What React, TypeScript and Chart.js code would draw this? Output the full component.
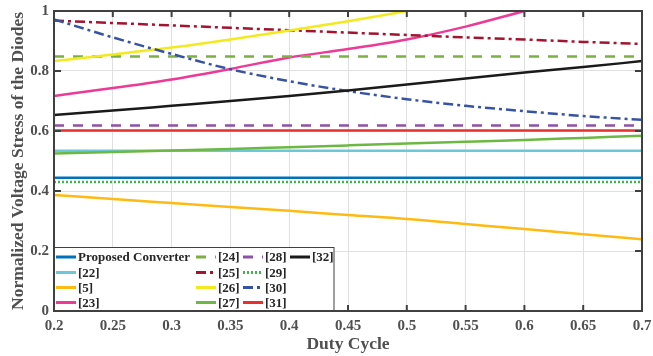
import React, { useEffect, useRef } from "react";
import { Chart, registerables } from "chart.js";

Chart.register(...registerables);

// ---- Data ----
const duty = [0.2, 0.25, 0.3, 0.35, 0.4, 0.45, 0.5, 0.55, 0.6, 0.65, 0.7];
const xTickLabels = ["0.2", "0.25", "0.3", "0.35", "0.4", "0.45", "0.5", "0.55", "0.6", "0.65", "0.7"];
const yTickLabels = ["0", "0.2", "0.4", "0.6", "0.8", "1"];

const proposed = [0.444, 0.444, 0.444, 0.444, 0.444, 0.444, 0.444, 0.444, 0.444, 0.444, 0.444];
const ref22 = [0.534, 0.534, 0.534, 0.534, 0.534, 0.534, 0.534, 0.534, 0.534, 0.534, 0.534];
const ref5 = [0.387, 0.373, 0.36, 0.347, 0.334, 0.32, 0.307, 0.29, 0.273, 0.256, 0.239];
const ref23 = [0.717, 0.743, 0.772, 0.807, 0.845, 0.873, 0.905, 0.948, 1.0];
const ref24 = [0.848, 0.848, 0.848, 0.848, 0.848, 0.848, 0.848, 0.848, 0.848, 0.848, 0.848];
const ref25 = [0.968, 0.96, 0.952, 0.944, 0.936, 0.928, 0.92, 0.912, 0.905, 0.897, 0.89];
const ref26 = [0.833, 0.855, 0.878, 0.905, 0.935, 0.966, 1.0];
const ref27 = [0.525, 0.53, 0.535, 0.54, 0.546, 0.552, 0.558, 0.564, 0.57, 0.577, 0.584];
const ref28 = [0.618, 0.618, 0.618, 0.618, 0.618, 0.618, 0.618, 0.618, 0.618, 0.618, 0.618];
const ref29 = [0.43, 0.43, 0.43, 0.43, 0.43, 0.43, 0.43, 0.43, 0.43, 0.43, 0.43];
const ref30 = [0.972, 0.912, 0.857, 0.806, 0.766, 0.733, 0.706, 0.684, 0.666, 0.65, 0.637];
const ref31 = [0.602, 0.602, 0.602, 0.602, 0.602, 0.602, 0.602, 0.602, 0.602, 0.602, 0.602];
const ref32 = [0.653, 0.668, 0.684, 0.7, 0.717, 0.735, 0.755, 0.775, 0.795, 0.813, 0.833];

const seriesLabels = [
  "Proposed Converter", "[22]", "[5]", "[23]", "[24]", "[25]", "[26]",
  "[27]", "[28]", "[29]", "[30]", "[31]", "[32]",
];
const seriesValues = [proposed, ref22, ref5, ref23, ref24, ref25, ref26, ref27, ref28, ref29, ref30, ref31, ref32];

// ---- Styles ----
const seriesColors = [
  "#0072BD", "#6CC8D8", "#FDBA12", "#EC3A96", "#7BB143", "#A2142F", "#F2EA1E",
  "#6DB843", "#8E50A8", "#3FB54A", "#3953A4", "#E8312F", "#1A1A1A",
];
const seriesDash: number[][] = [
  [], [], [], [], [10, 9], [10, 4, 3, 4], [], [], [10, 9], [2, 2], [10, 4, 3, 4], [], [],
];

const FONT = "'Liberation Serif', 'Times New Roman', serif";
const TEXT = "#505050";
const FRAME = "#404040";

const framePlugin = {
  id: "frameAndLegend",
  afterDatasetsDraw(chart: any) {
    const { ctx, chartArea } = chart;
    const { left, right, top, bottom } = chartArea;
    const xs = chart.scales.x;
    const ys = chart.scales.y;
    ctx.save();
    ctx.strokeStyle = FRAME;
    ctx.lineWidth = 2;
    ctx.setLineDash([]);
    ctx.beginPath();
    for (const t of xs.ticks) {
      const px = xs.getPixelForValue(t.value);
      ctx.moveTo(px, bottom);
      ctx.lineTo(px, bottom - 6);
      ctx.moveTo(px, top);
      ctx.lineTo(px, top + 6);
    }
    for (const t of ys.ticks) {
      const py = ys.getPixelForValue(t.value);
      ctx.moveTo(left, py);
      ctx.lineTo(left + 7, py);
      ctx.moveTo(right, py);
      ctx.lineTo(right - 7, py);
    }
    ctx.stroke();
    ctx.strokeRect(left, top, right - left, bottom - top);

    // Legend box (bottom-left inside the plot)
    const bx = left - 0.5;
    const bw = 281;
    const bh = 64;
    const by = bottom - bh;
    ctx.fillStyle = "#ffffff";
    ctx.fillRect(bx, by, bw, bh);
    ctx.lineWidth = 1;
    ctx.strokeStyle = FRAME;
    ctx.strokeRect(bx + 0.5, by + 0.5, bw - 1, bh - 1);

    const colX = [left + 2, left + 142, left + 189, left + 236];
    const rowY = [by + 10, by + 25.5, by + 40.5, by + 55.5];
    ctx.font = `bold 13px ${FONT}`;
    ctx.textBaseline = "middle";
    ctx.textAlign = "left";
    seriesLabels.forEach((label, i) => {
      const c = Math.floor(i / 4);
      const r = i % 4;
      const x0 = colX[c];
      const y0 = rowY[r];
      ctx.strokeStyle = seriesColors[i];
      ctx.lineWidth = 3;
      ctx.setLineDash(seriesDash[i]);
      ctx.beginPath();
      ctx.moveTo(x0, y0);
      ctx.lineTo(x0 + 20, y0);
      ctx.stroke();
      ctx.setLineDash([]);
      ctx.fillStyle = "#262626";
      ctx.fillText(label, x0 + 22, y0 + 1);
    });

    // redraw frame bottom/left over legend box edges
    ctx.strokeStyle = FRAME;
    ctx.lineWidth = 2;
    ctx.beginPath();
    ctx.moveTo(left, top);
    ctx.lineTo(left, bottom);
    ctx.lineTo(right, bottom);
    ctx.stroke();
    ctx.restore();
  },
};

function zeroPadding(s: any) {
  s.paddingTop = 0;
  s.paddingBottom = 0;
  s.paddingLeft = 0;
  s.paddingRight = 0;
}

export default function App() {
  const ref = useRef<HTMLCanvasElement | null>(null);

  useEffect(() => {
    if (!ref.current) return;
    Chart.defaults.font.family = FONT;
    const datasets = seriesLabels.map((label, i) => ({
      label,
      data: seriesValues[i].map((v, k) => ({ x: duty[k], y: v })),
      borderColor: seriesColors[i],
      backgroundColor: seriesColors[i],
      borderWidth: 2.5,
      borderDash: seriesDash[i],
      pointRadius: 0,
      fill: false,
      cubicInterpolationMode: "monotone" as const,
      order: seriesLabels.length - i,
    }));

    const chart = new Chart(ref.current, {
      type: "line",
      data: { datasets },
      plugins: [framePlugin],
      options: {
        animation: false,
        responsive: false,
        devicePixelRatio: 1,
        layout: { padding: { top: 11, right: 11, left: 0, bottom: 0 } },
        plugins: {
          legend: { display: false },
          tooltip: { enabled: false },
        },
        scales: {
          x: {
            type: "linear",
            min: 0.2,
            max: 0.7,
            afterFit: (s: any) => { s.height = 45; zeroPadding(s); },
            afterBuildTicks: (s: any) => {
              s.ticks = duty.map((v) => ({ value: v }));
            },
            ticks: {
              autoSkip: false,
              maxRotation: 0,
              padding: 6,
              color: TEXT,
              font: { size: 15, weight: "bold", family: FONT },
              callback: (_v: any, idx: number) => xTickLabels[idx],
            },
            grid: { color: "#e0e0e0", lineWidth: 1, drawTicks: false },
            border: { display: true, color: FRAME, width: 2 },
            title: {
              display: true,
              text: "Duty Cycle",
              color: TEXT,
              font: { size: 17.5, weight: "bold", family: FONT },
              padding: { top: 0, bottom: 1.5 },
            },
          },
          y: {
            type: "linear",
            min: 0,
            max: 1,
            afterFit: (s: any) => { s.width = 54; zeroPadding(s); },
            afterBuildTicks: (s: any) => {
              s.ticks = yTickLabels.map((t) => ({ value: parseFloat(t) }));
            },
            ticks: {
              autoSkip: false,
              padding: 5,
              color: TEXT,
              font: { size: 15, weight: "bold", family: FONT },
              callback: (_v: any, idx: number) => yTickLabels[idx],
            },
            grid: { color: "#e0e0e0", lineWidth: 1, drawTicks: false },
            border: { display: true, color: FRAME, width: 2 },
            title: {
              display: true,
              text: "Normalized Voltage Stress of the Diodes",
              color: TEXT,
              font: { size: 17.5, weight: "bold", family: FONT },
              padding: { top: 8, bottom: 0 },
            },
          },
        },
      },
    });
    return () => chart.destroy();
  }, []);

  return (
    <div style={{ position: "absolute", left: 0, top: 0, width: 653, height: 356, background: "#fff" }}>
      <canvas ref={ref} width={653} height={356} style={{ display: "block" }} />
    </div>
  );
}
